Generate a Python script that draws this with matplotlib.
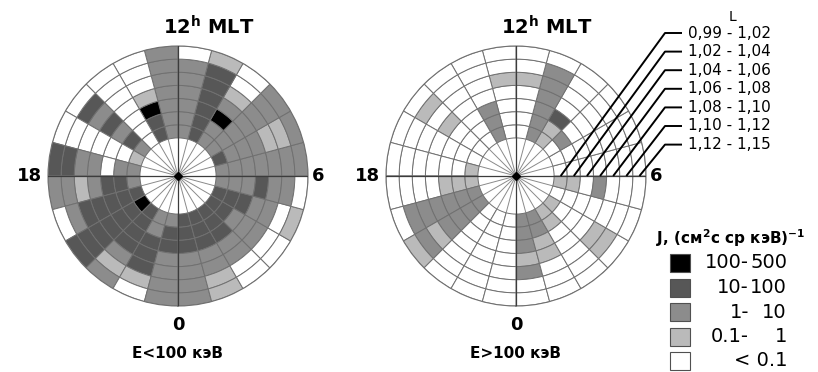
import numpy as np
import matplotlib.pyplot as plt
from matplotlib.patches import Rectangle

# flux level per cell: 0 (<0.1), 1 (0.1-1), 2 (1-10), 3 (10-100), 4 (100-500)
# one row per MLT sector (h .. h+1), rings L from inner to outer
e_low = [
    [3, 3, 3, 2, 2, 2, 2],  # 0
    [3, 3, 3, 2, 2, 1, 1],
    [3, 3, 3, 2, 2, 0, 0],
    [3, 3, 2, 2, 2, 0, 0],
    [3, 3, 3, 2, 2, 0, 1],
    [2, 2, 2, 3, 2, 2, 0],
    [2, 2, 2, 2, 2, 2, 2],  # 6
    [3, 2, 2, 2, 1, 1, 2],
    [2, 2, 2, 2, 2, 2, 2],
    [2, 2, 4, 2, 1, 0, 0],
    [3, 3, 3, 3, 3, 3, 1],
    [2, 2, 2, 2, 2, 2, 0],
    [2, 2, 2, 2, 2, 2, 2],  # 12
    [3, 3, 4, 1, 0, 0, 0],
    [0, 0, 0, 0, 0, 0, 0],
    [2, 3, 2, 3, 2, 3, 0],
    [1, 0, 0, 0, 0, 0, 0],
    [2, 2, 0, 2, 2, 3, 3],
    [2, 3, 3, 2, 1, 2, 2],  # 18
    [3, 3, 3, 3, 3, 2, 0],
    [4, 3, 3, 3, 3, 3, 3],
    [3, 3, 3, 3, 2, 1, 2],
    [2, 2, 3, 3, 3, 1, 0],
    [2, 3, 3, 2, 2, 2, 2],
]

e_high = [
    [2, 2, 2, 1, 2, 0, 0],  # 0
    [2, 2, 1, 1, 0, 0, 0],
    [1, 1, 0, 0, 0, 0, 0],
    [1, 0, 0, 0, 1, 1, 0],
    [0, 0, 0, 0, 0, 0, 0],
    [1, 1, 0, 2, 0, 0, 0],
    [0, 0, 0, 0, 0, 0, 0],  # 6
    [0, 0, 0, 0, 0, 0, 0],
    [0, 2, 0, 0, 0, 0, 0],
    [1, 1, 3, 0, 0, 0, 0],
    [2, 2, 2, 2, 2, 2, 0],
    [0, 0, 0, 0, 1, 0, 0],
    [0, 0, 0, 0, 1, 0, 0],  # 12
    [2, 2, 2, 0, 0, 0, 0],
    [0, 0, 0, 0, 0, 0, 0],
    [0, 0, 0, 1, 0, 1, 0],
    [0, 0, 0, 0, 0, 0, 0],
    [1, 0, 0, 0, 0, 0, 0],
    [1, 1, 1, 0, 0, 0, 0],  # 18
    [2, 2, 2, 2, 2, 2, 0],
    [2, 2, 2, 2, 1, 2, 1],
    [0, 0, 0, 0, 0, 0, 0],
    [0, 0, 0, 0, 0, 0, 0],
    [0, 0, 0, 0, 0, 0, 0],
]

l_ranges = ['0,99 - 1,02', '1,02 - 1,04', '1,04 - 1,06', '1,06 - 1,08',
            '1,08 - 1,10', '1,10 - 1,12', '1,12 - 1,15']
flux_left = ['100-', '10-', '1-', '0.1-', '']
flux_right = ['500', '100', '10', '1', '< 0.1']
flux_levels = [4, 3, 2, 1, 0]
level_colors = ['#ffffff', '#bababa', '#8c8c8c', '#575757', '#000000']

W, H = 818, 372
N_SECT, N_RING = 24, 7
R_IN = 2.9
R_OUT = R_IN + N_RING
SECT = 2 * np.pi / N_SECT

fig = plt.figure(figsize=(W / 100, H / 100), dpi=100)

overlay = fig.add_axes([0, 0, 1, 1])
overlay.set_xlim(0, W)
overlay.set_ylim(H, 0)
overlay.axis('off')
overlay.set_zorder(5)
overlay.patch.set_alpha(0)


def draw_disc(cx, levels, energy_label):
    rad = 130
    ax = fig.add_axes([(cx - rad) / W, (H - 176 - rad) / H, 2 * rad / W, 2 * rad / H],
                      projection='polar')
    ax.set_theta_zero_location('S')
    ax.set_theta_direction(1)
    ax.set_ylim(0, R_OUT)

    lev = np.array(levels)
    theta = np.repeat((np.arange(N_SECT) + 0.5) * SECT, N_RING)
    bottom = np.tile(R_IN + np.arange(N_RING), N_SECT)
    colors = [level_colors[v] for v in lev.ravel()]
    ax.bar(theta, 1, width=SECT, bottom=bottom, color=colors,
           edgecolor='#707070', linewidth=0.7, zorder=2)

    # spokes in the inner white disc
    for h in range(N_SECT):
        ax.plot([h * SECT, h * SECT], [0, R_IN], color='#8a8a8a', lw=0.7, zorder=3)
    # main 0-12 / 6-18 axes
    for h in (0, 6, 12, 18):
        ax.plot([h * SECT, h * SECT], [0, R_OUT], color='#3c3c3c', lw=0.9, zorder=3)
    ax.plot(0, 0, marker='D', color='k', ms=4, zorder=4)

    ax.set_xticks([])
    ax.set_yticks([])
    ax.grid(False)
    ax.spines['polar'].set_edgecolor('#707070')
    ax.spines['polar'].set_linewidth(0.8)

    lab = dict(fontsize=13, fontweight='bold', textcoords='offset pixels',
               annotation_clip=False)
    ax.annotate('18', xy=(18 * SECT, R_OUT), xytext=(-6, 0), ha='right', va='center', **lab)
    ax.annotate('6', xy=(6 * SECT, R_OUT), xytext=(4, 0), ha='left', va='center', **lab)
    ax.annotate('0', xy=(0, R_OUT), xytext=(0, -10), ha='center', va='top', **lab)
    ax.annotate(r'$\mathbf{12^{h}}$ MLT', xy=(12 * SECT, R_OUT), xytext=(-15, 7),
                ha='left', va='bottom', fontsize=14, fontweight='bold',
                textcoords='offset pixels', annotation_clip=False)
    ax.annotate(energy_label, xy=(0, R_OUT), xytext=(0, -40), ha='center', va='top',
                fontsize=11, fontweight='bold', textcoords='offset pixels',
                annotation_clip=False)
    return ax


ax_low = draw_disc(178, e_low, 'E<100 кэВ')
ax_high = draw_disc(516, e_high, 'E>100 кэВ')

# L legend with leader lines to the ring centres on the 6 h axis
fig.canvas.draw()
to_over = overlay.transData.inverted()
overlay.text(733, 17, 'L', ha='center', va='center', fontsize=10)
for i, txt in enumerate(l_ranges):
    y_txt = 33 + 18.6 * i
    x_end, y_end = to_over.transform(ax_high.transData.transform((6 * SECT, R_IN + i + 0.5)))
    overlay.plot([x_end, 665, 682], [y_end, y_txt, y_txt], color='k', lw=1.4,
                 solid_capstyle='butt')
    overlay.text(688, y_txt, txt, ha='left', va='center', fontsize=11)

# flux legend
overlay.text(656, 238, r'J, (см$^{\mathbf{2}}$с ср кэВ)$^{\mathbf{-1}}$', ha='left',
             va='center', fontsize=11, fontweight='bold')
for k, lev in enumerate(flux_levels):
    yc = 263 + 24.5 * k
    overlay.add_patch(Rectangle((670, yc - 9), 20, 18, facecolor=level_colors[lev],
                                edgecolor='#505050', lw=0.8))
    overlay.text(749, yc, flux_left[k], ha='right', va='center', fontsize=14)
    overlay.text(787, yc, flux_right[k], ha='right', va='center', fontsize=14)

fig.savefig('out.png', dpi=100)
